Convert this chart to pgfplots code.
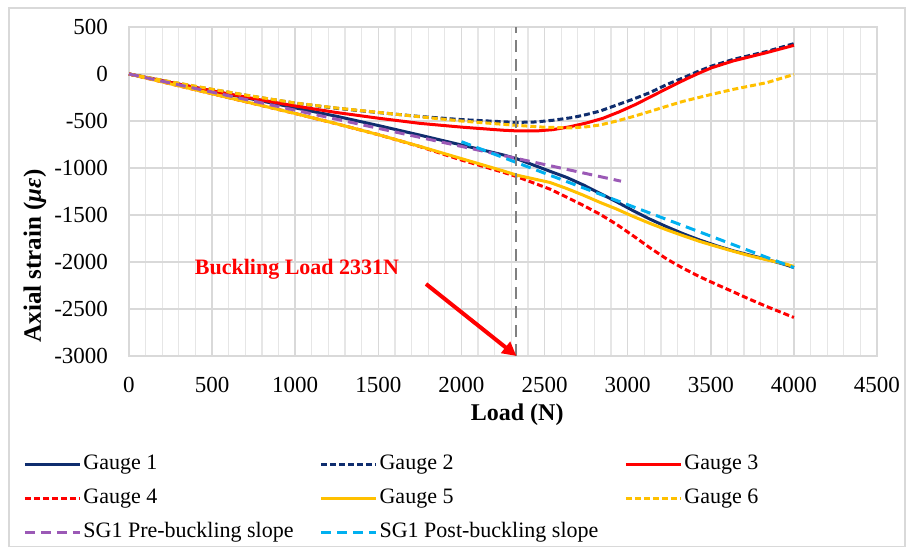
\documentclass[border=0pt]{standalone}
\usepackage{fontspec}
\setmainfont{Liberation Serif}
\usepackage{pgfplots}
\pgfplotsset{compat=1.18}
\usetikzlibrary{arrows.meta}
\definecolor{navy}{HTML}{0F2D6E}
\definecolor{gred}{HTML}{FF0000}
\definecolor{gyel}{HTML}{FFC000}
\definecolor{gpur}{HTML}{9B59B6}
\definecolor{gblu}{HTML}{00B0F0}
\definecolor{vgray}{HTML}{808080}
\definecolor{gridmaj}{HTML}{D9D9D9}
\definecolor{gridmin}{HTML}{E6E6E6}
\definecolor{framegray}{HTML}{D9D9D9}

\pgfplotstableread{
x y
0 0
250 -90
500 -180
750 -270
1000 -360
1250 -450
1500 -548
1750 -650
2000 -755
2250 -860
2331 -900
2533 -1035
2633 -1100
2733 -1180
2834 -1270
2934 -1360
3034 -1455
3135 -1545
3235 -1625
3335 -1700
3435 -1767
3536 -1828
3636 -1881
3736 -1927
3837 -1972
3937 -2022
4000 -2058
}\gaugeone

\pgfplotstableread{
x y
0 0
250 -85
500 -165
750 -240
1000 -310
1250 -365
1500 -410
1750 -452
2000 -485
2250 -508
2331 -515
2450 -510
2550 -492
2672 -462
2750 -432
2834 -394
2934 -330
3034 -267
3135 -197
3235 -112
3335 -40
3420 25
3506 85
3636 156
3837 240
4000 323
}\gaugetwo

\pgfplotstableread{
x y
0 0
250 -90
500 -178
750 -262
1000 -340
1250 -410
1500 -470
1750 -525
2000 -565
2250 -598
2331 -605
2450 -606
2550 -592
2650 -562
2750 -522
2850 -472
2950 -402
3050 -322
3150 -232
3250 -142
3350 -55
3430 10
3506 67
3636 140
3837 228
4000 305
}\gaugethree

\pgfplotstableread{
x y
0 0
250 -105
500 -210
750 -315
1000 -420
1250 -530
1500 -645
1750 -772
2000 -915
2250 -1045
2331 -1090
2533 -1225
2633 -1310
2733 -1398
2834 -1492
2934 -1600
3034 -1722
3135 -1850
3235 -1968
3335 -2068
3435 -2158
3536 -2240
3636 -2318
3736 -2398
3837 -2474
3937 -2545
4000 -2590
}\gaugefour

\pgfplotstableread{
x y
0 0
250 -105
500 -210
750 -315
1000 -420
1250 -530
1500 -645
1750 -770
2000 -900
2250 -1030
2331 -1075
2533 -1154
2633 -1218
2733 -1289
2834 -1366
2934 -1437
3034 -1516
3135 -1590
3235 -1658
3335 -1721
3435 -1782
3536 -1835
3636 -1886
3736 -1934
3837 -1977
3937 -2015
4000 -2047
}\gaugefive

\pgfplotstableread{
x y
0 0
250 -82
500 -162
750 -238
1000 -308
1250 -362
1500 -408
1750 -455
2000 -500
2250 -535
2331 -546
2500 -566
2650 -574
2750 -562
2834 -542
2934 -500
3034 -452
3135 -398
3235 -343
3335 -290
3506 -216
3636 -163
3837 -92
4000 -5
}\gaugesix

\begin{document}
\begin{tikzpicture}
\useasboundingbox (0,0) rectangle (453.5pt,-273.5pt);
\draw[framegray, line width=0.6pt] (4.5pt,-4pt) rectangle (452.5pt,-273.2pt);
\begin{axis}[
  at={(64.5pt,-178pt)}, anchor=south west,
  scale only axis, width=374pt, height=164.5pt,
  xmin=0, xmax=4500, ymin=-3000, ymax=500,
  xtick distance=500, ytick distance=500,
  minor x tick num=4,
  grid=major, xminorgrids=true,
  major grid style={gridmaj, line width=0.8pt},
  minor grid style={gridmin, line width=0.6pt},
  axis line style={gridmaj, line width=0.8pt},
  major tick length=0pt, minor tick length=0pt,
  /pgf/number format/assume math mode=true,
  /pgf/number format/1000 sep={},
  ticklabel style={font=\fontsize{11.5}{13}\selectfont, text=black},
  xticklabel style={yshift=-7pt},
  yticklabel style={xshift=-7pt},
  xlabel={\fontsize{12}{14}\selectfont\bfseries Load (N)},
  ylabel={\fontsize{12.5}{14}\selectfont\bfseries Axial strain (\textit{με})},
  every axis x label/.style={at={(axis description cs:0.519,-0.179)}, anchor=center},
  every axis y label/.style={at={(axis description cs:-0.1257,0.304)}, rotate=90, anchor=center},
  legend columns=3,
  legend cell align=left,
  legend image code/.code={\draw[#1] (0pt,0pt) -- (27.5pt,0pt);},
  legend style={at={(axis description cs:-0.1417,-0.292)}, anchor=north west,
    draw=none, fill=none, inner sep=0pt, row sep=5pt,
    font=\fontsize{11}{13}\selectfont,
    nodes={inner sep=1pt, text height=7.5pt, text depth=2.5pt},
    /tikz/every even column/.append style={column sep=12pt}},
  clip=false,
]
\addplot[navy, line width=1.5pt] table {\gaugeone};
\addlegendentry{Gauge 1}
\addplot[navy, line width=1.5pt, dash pattern=on 3pt off 1.5pt] table {\gaugetwo};
\addlegendentry{Gauge 2}
\addplot[gred, line width=1.5pt] table {\gaugethree};
\addlegendentry{Gauge 3}
\addplot[gred, line width=1.5pt, dash pattern=on 3pt off 1.5pt] table {\gaugefour};
\addlegendentry{Gauge 4}
\addplot[gyel, line width=1.5pt] table {\gaugefive};
\addlegendentry{Gauge 5}
\addplot[gyel, line width=1.5pt, dash pattern=on 3pt off 1.5pt] table {\gaugesix};
\addlegendentry{Gauge 6}
\addplot[gpur, line width=1.5pt, dash pattern=on 5pt off 3pt] coordinates {(0,0) (2960,-1140)};
\addlegendentry{SG1 Pre-buckling slope}
\addplot[gblu, line width=1.5pt, dash pattern=on 5pt off 3pt] coordinates {(2000,-720) (4000,-2060)};
\addlegendentry{SG1 Post-buckling slope}
\addplot[vgray, line width=1pt, dash pattern=on 6pt off 3.5pt, forget plot] coordinates {(2331,-3000) (2331,500)};
\node[text=gred, font=\fontsize{11}{13}\selectfont\bfseries] at (axis cs:1011,-2074) {Buckling Load 2331N};
\draw[gred, line width=2pt, -{Triangle[length=7pt,width=7pt]}] (axis cs:1787,-2234) -- (axis cs:2331,-3000);
\end{axis}
\end{tikzpicture}
\end{document}
